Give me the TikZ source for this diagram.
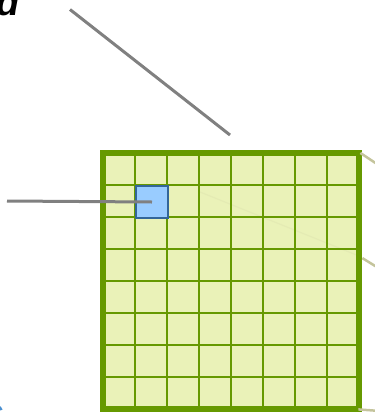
\documentclass[tikz,border=0pt]{standalone}
\usepackage{fontspec}
\setmainfont{Liberation Sans}
\usetikzlibrary{calc}
\definecolor{gridgreen}{HTML}{669900}
\definecolor{cellfill}{HTML}{EAF2B8}
\definecolor{selfill}{HTML}{99CCFF}
\definecolor{selborder}{HTML}{336699}
\definecolor{pointer}{HTML}{808080}
\definecolor{olive}{HTML}{C4C49C}
\definecolor{textblue}{HTML}{4A8FD0}
\tikzset{
  pointerline/.style={draw=pointer, line width=3pt},
  oliveline/.style={draw=olive, line width=2.5pt},
  gridline/.style={draw=gridgreen, line width=2.4pt},
}
\begin{document}
\begin{tikzpicture}[x=1pt,y=-1pt]
\useasboundingbox (0,0) rectangle (375,418);
% grid
\node[draw=none, fill=cellfill, minimum size=256pt, inner sep=0, anchor=north west] (grid) at (103,153) {};
\draw[olive, opacity=0.15, line width=1.2pt] (200,192) -- (359,256);
\foreach \k in {1,...,7} {
  \draw[gridline] (103+32*\k,153) -- (103+32*\k,409);
  \draw[gridline] (103,153+32*\k) -- (359,153+32*\k);
}
\draw[draw=gridgreen, line width=6pt] (grid.north west) rectangle (grid.south east);
% selected cell
\node[draw=selborder, fill=selfill, line width=2pt, minimum size=32pt, inner sep=0, anchor=north west] (cell) at (135,185) {};
% pointers
\coordinate (hstart) at (7,201);
\draw[pointerline] (hstart) -- (cell.center);
\coordinate (dstart) at (70,9.5);
\coordinate (dend) at (230,135);
\draw[pointerline] (dstart) -- (dend);
% olive lines at right
\coordinate (o1) at (380,166);
\coordinate (o2) at (380,269);
\coordinate (o3) at (380,411);
\draw[oliveline] ($(grid.north east)+(1,0)$) -- (o1);
\draw[oliveline] ($(grid.north east)!0.41!(grid.south east)+(3,0)$) -- (o2);
\draw[oliveline] ($(grid.south east)+(-1,0)$) -- (o3);
% text fragments
\node[anchor=base west, inner sep=0, font=\fontsize{38}{38}\selectfont\bfseries\itshape] (title) at (-4,15) {d};
\node[anchor=base east, inner sep=0, text=textblue, font=\fontsize{30}{30}\selectfont\bfseries] (ftext) at (4,425) {C};
\end{tikzpicture}
\end{document}
